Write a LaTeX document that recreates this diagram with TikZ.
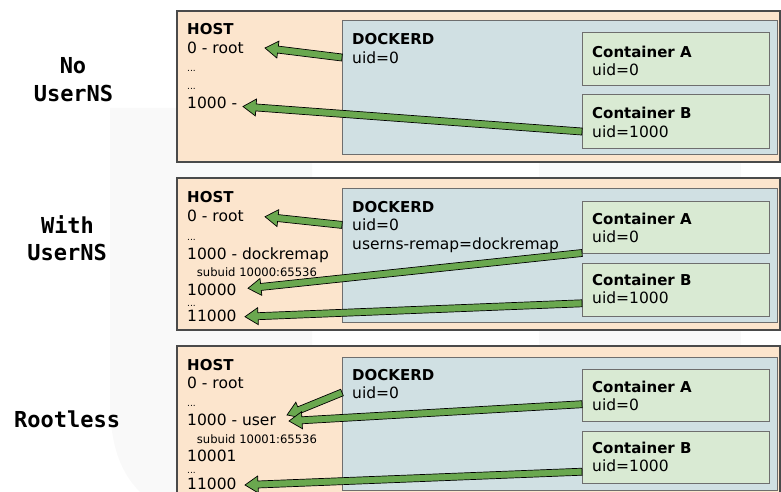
\documentclass[tikz,border=0pt]{standalone}
\usepackage{fontspec}
\setmainfont{DejaVu Sans}
\newfontfamily\modefont{DejaVu Sans Mono}
\usepackage{tikz}
\usetikzlibrary{calc}

\definecolor{hostfill}{HTML}{FCE5CD}
\definecolor{dockfill}{HTML}{D0E0E3}
\definecolor{contfill}{HTML}{D9EAD3}
\definecolor{boxline}{HTML}{4A4A4A}
\definecolor{arrowgreen}{HTML}{6AA84F}
\definecolor{wmgrey}{HTML}{F9F9F9}

\tikzset{
    hostbox/.style = {draw=boxline, fill=hostfill, line width=1.2pt, anchor=north west, inner sep=0pt, outer sep=0pt},
    dockbox/.style = {draw=boxline!80, fill=dockfill, line width=1pt, anchor=north west, inner sep=0pt, outer sep=0pt},
    contbox/.style = {draw=boxline!80, fill=contfill, line width=1pt, anchor=north west, inner sep=0pt, outer sep=0pt,
                      minimum width=187pt, minimum height=53pt},
    txt/.style = {anchor=base west, inner sep=0pt, font=\fontsize{15.5}{18}\selectfont},
    title/.style = {txt, font=\fontsize{15}{18}\selectfont\bfseries},
    small/.style = {txt, font=\fontsize{11.6}{14}\selectfont},
    dots/.style = {txt, font=\fontsize{9}{11}\selectfont},
    mode/.style = {anchor=base, inner sep=0pt, font=\modefont\bfseries\fontsize{22}{26}\selectfont},
    fatarrow/.style = {fill=arrowgreen, draw=black, line width=0.7pt, line join=miter}
}

% block arrow: tail at #1, tip at #2
\newcommand{\fatarrow}[2]{%
    \coordinate (fatS) at (#1);
    \coordinate (fatT) at (#2);
    \coordinate (fatH) at ($(fatT)!13pt!(fatS)$);
    \filldraw [fatarrow] ($(fatS)!3.5pt!90:(fatT)$) -- ($(fatH)!3.5pt!90:(fatT)$)
        -- ($(fatH)!8.5pt!90:(fatT)$) -- (fatT) -- ($(fatH)!8.5pt!-90:(fatT)$)
        -- ($(fatH)!3.5pt!-90:(fatT)$) -- ($(fatS)!3.5pt!-90:(fatT)$) -- cycle;
}

\begin{document}
\begin{tikzpicture}[x={(1pt,0)}, y={(0,-1pt)}]
    \useasboundingbox (0, 0) rectangle (781, 492);
    \clip (0, 0) rectangle (781, 492);

    % faint watermark behind the panels
    \fill [wmgrey] (110, 108) -- (312, 108) -- (312, 492) -- (140, 492)
        .. controls (118, 470) and (110, 440) .. (110, 400) -- cycle;
    \fill [wmgrey] (539, 100) rectangle (741, 492);

    % row labels
    \node [mode] (m1a) at (73, 73.3) {No};
    \node [mode] (m1b) at (73.5, 101.7) {UserNS};
    \node [mode] (m2a) at (67.5, 233.3) {With};
    \node [mode] (m2b) at (67.2, 260.7) {UserNS};
    \node [mode] (m3) at (67.2, 427.7) {Rootless};

    % ---- No UserNS ----
    \node [hostbox, minimum width=603pt, minimum height=151pt] (h1) at (177, 11) {};
    \node [dockbox, minimum width=435pt, minimum height=133pt] (d1) at (342, 21) {};
    \node [contbox] (cA1) at (582, 33) {};
    \node [contbox] (cB1) at (582, 95) {};

    \node [title] (h1t) at (187, 35) {HOST};
    \node [txt] (h1root) at (187, 53.3) {0 - root};
    \node [dots] (h1dA) at (187, 72) {...};
    \node [dots] (h1dB) at (187, 90) {...};
    \node [txt] (h1k) at (187, 108.3) {1000 -};

    \node [title] (d1t) at (352, 45) {DOCKERD};
    \node [txt] (d1u) at (352, 63.3) {uid=0};
    \node [title] (cA1t) at (592, 57.3) {Container A};
    \node [txt] (cA1u) at (592, 76) {uid=0};
    \node [title] (cB1t) at (592, 119) {Container B};
    \node [txt] (cB1u) at (592, 137.3) {uid=1000};

    \coordinate (t1root) at (265, 48);
    \coordinate (t1k) at (243, 106.5);
    \fatarrow{d1.west |- d1u.west}{t1root}
    \fatarrow{cB1.west |- cB1u.west}{t1k}

    % ---- With UserNS ----
    \node [hostbox, minimum width=603pt, minimum height=152pt] (h2) at (177, 178) {};
    \node [dockbox, minimum width=435pt, minimum height=134pt] (d2) at (342, 188) {};
    \node [contbox, minimum height=52pt] (cA2) at (582, 201) {};
    \node [contbox] (cB2) at (582, 263) {};

    \node [title] (h2t) at (187, 202.3) {HOST};
    \node [txt] (h2root) at (187, 221.7) {0 - root};
    \node [dots] (h2dA) at (187, 240) {...};
    \node [txt] (h2remap) at (187, 259.3) {1000 - dockremap};
    \node [small] (h2sub) at (196.7, 276) {subuid 10000:65536};
    \node [txt] (h2a) at (187, 295) {10000};
    \node [dots] (h2dB) at (187, 306.7) {...};
    \node [txt] (h2b) at (187, 321.7) {11000};

    \node [title] (d2t) at (352, 212.3) {DOCKERD};
    \node [txt] (d2u) at (352, 230.7) {uid=0};
    \node [txt] (d2r) at (352, 249) {userns-remap=dockremap};
    \node [title] (cA2t) at (592, 224.3) {Container A};
    \node [txt] (cA2u) at (592, 242.7) {uid=0};
    \node [title] (cB2t) at (592, 285) {Container B};
    \node [txt] (cB2u) at (592, 303.3) {uid=1000};

    \coordinate (t2root) at (265, 216.7);
    \coordinate (t2a) at (248, 288.3);
    \coordinate (t2b) at (245, 316.7);
    \fatarrow{d2.west |- d2u.west}{t2root}
    \fatarrow{cA2.south west}{t2a}
    \fatarrow{cB2.west |- cB2u.base}{t2b}

    % ---- Rootless ----
    \node [hostbox, minimum width=603pt, minimum height=160pt] (h3) at (177, 346) {};
    \node [dockbox, minimum width=435pt, minimum height=133pt] (d3) at (342, 357) {};
    \node [contbox, minimum height=52pt] (cA3) at (582, 369) {};
    \node [contbox, minimum height=52pt] (cB3) at (582, 431) {};

    \node [title] (h3t) at (187, 370) {HOST};
    \node [txt] (h3root) at (187, 388.3) {0 - root};
    \node [dots] (h3dA) at (187, 406.7) {...};
    \node [txt] (h3user) at (187, 425) {1000 - user};
    \node [small] (h3sub) at (196.7, 443.3) {subuid 10001:65536};
    \node [txt] (h3a) at (187, 461.7) {10001};
    \node [dots] (h3dB) at (187, 473.3) {...};
    \node [txt] (h3b) at (187, 489) {11000};

    \node [title] (d3t) at (352, 380) {DOCKERD};
    \node [txt] (d3u) at (352, 398.3) {uid=0};
    \node [title] (cA3t) at (592, 392.3) {Container A};
    \node [txt] (cA3u) at (592, 410) {uid=0};
    \node [title] (cB3t) at (592, 453.3) {Container B};
    \node [txt] (cB3u) at (592, 471.7) {uid=1000};

    \coordinate (t3user) at (287, 415);
    \coordinate (t3userB) at (289, 421);
    \coordinate (t3b) at (245, 485);
    \fatarrow{d3.west |- d3u.west}{t3user}
    \fatarrow{cA3.west |- cA3u.west}{t3userB}
    \fatarrow{cB3.west |- cB3u.base}{t3b}
\end{tikzpicture}
\end{document}
